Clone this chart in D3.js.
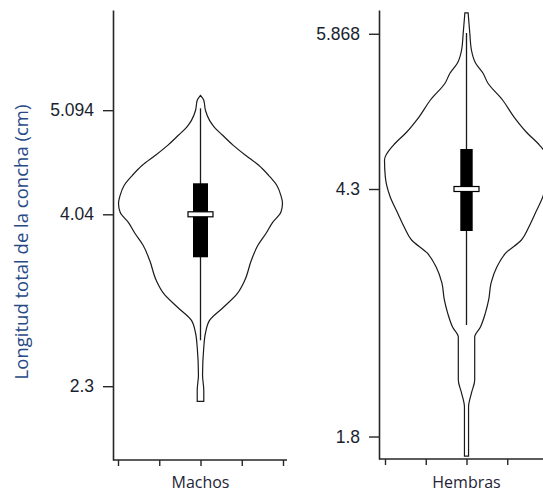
<!DOCTYPE html>
<html>
<head>
<meta charset="utf-8">
<script src="https://cdn.jsdelivr.net/npm/d3@7"></script>
<style>
  body { margin: 0; background: #fff; }
</style>
</head>
<body>
<script>
// groups
var groups = ["Machos", "Hembras"];

// y tick labels per panel
var machosTicks = [2.3, 4.04, 5.094];
var hembrasTicks = [1.8, 4.3, 5.868];

// visible y range of each panel (cm)
var machosDomain = [1.553, 6.108];
var hembrasDomain = [1.573, 6.108];

// violin outline: [length (cm), relative density]
var machosDensity = [
  [5.244, 0.00], [5.194, 0.04], [5.093, 0.06], [4.991, 0.11], [4.921, 0.17],
  [4.840, 0.27], [4.738, 0.40], [4.637, 0.55], [4.536, 0.71], [4.435, 0.83],
  [4.334, 0.93], [4.232, 0.98], [4.151, 1.00], [4.060, 0.98], [3.959, 0.88],
  [3.848, 0.80], [3.726, 0.70], [3.574, 0.62], [3.372, 0.54], [3.240, 0.45],
  [3.099, 0.28], [2.967, 0.11], [2.836, 0.06], [2.694, 0.04], [2.410, 0.025],
  [2.259, 0.04], [2.147, 0.04]
];
var hembrasDensity = [
  [6.078, 0.02], [5.876, 0.04], [5.704, 0.06], [5.573, 0.11], [5.472, 0.20],
  [5.371, 0.26], [5.199, 0.44], [5.027, 0.58], [4.866, 0.74], [4.744, 0.89],
  [4.593, 1.00], [4.421, 0.99], [4.219, 0.93], [4.058, 0.84], [3.916, 0.76],
  [3.785, 0.67], [3.654, 0.48], [3.512, 0.37], [3.351, 0.30], [3.179, 0.27],
  [3.047, 0.23], [2.906, 0.17], [2.805, 0.10], [2.371, 0.10], [2.239, 0.06],
  [2.098, 0.025], [1.603, 0.025]
];

// box stats: [whisker low, q1, median, q3, whisker high]
var machosBox = [2.765, 3.605, 4.04, 4.354, 5.113];
var hembrasBox = [2.926, 3.876, 4.3, 4.704, 5.876];

var width = 543, height = 494;

var svg = d3.select("body")
  .append("svg")
  .attr("width", width)
  .attr("height", height);

var panels = [
  { name: groups[0], ticks: machosTicks, domain: machosDomain, density: machosDensity, box: machosBox,
    axisX: 113, xRange: [118, 283], baseEnd: 287, yRange: [460, 10], boxHalf: 7.5 },
  { name: groups[1], ticks: hembrasTicks, domain: hembrasDomain, density: hembrasDensity, box: hembrasBox,
    axisX: 379, xRange: [385, 548], baseEnd: 543, yRange: [459, 10], boxHalf: 6.2 }
];

var lineColor = "#262626";
var w = d3.scaleLinear().domain([0, 1]).range([0, 82]); // density -> half width

panels.forEach(function(p) {
  var y = d3.scaleLinear().domain(p.domain).range(p.yRange);
  var x = d3.scaleLinear().domain([-1, 1]).range(p.xRange);
  var cx = x(0);
  var g = svg.append("g");

  // y axis
  var yAxis = g.append("g")
    .attr("transform", "translate(" + p.axisX + ",0)")
    .call(d3.axisLeft(y).tickValues(p.ticks).tickFormat(function(d) { return d; })
      .tickSize(10).tickSizeOuter(0).tickPadding(9));
  yAxis.select(".domain").attr("stroke", lineColor).attr("stroke-width", 1.6);
  yAxis.selectAll(".tick line").attr("stroke", lineColor).attr("stroke-width", 1.4);
  yAxis.selectAll(".tick text")
    .attr("font-family", "Liberation Sans, Arial, sans-serif")
    .attr("font-size", "17.5px")
    .attr("fill", "#1b1f30");

  // x axis baseline + ticks
  var base = p.yRange[0];
  g.append("line")
    .attr("x1", p.axisX).attr("x2", p.baseEnd)
    .attr("y1", base).attr("y2", base)
    .attr("stroke", lineColor).attr("stroke-width", 1.6);
  var xAxis = g.append("g")
    .attr("transform", "translate(0," + base + ")")
    .call(d3.axisBottom(x).tickValues([-1, -0.5, 0, 0.5, 1]).tickFormat("").tickSize(6));
  xAxis.select(".domain").remove();
  xAxis.selectAll(".tick line").attr("stroke", lineColor).attr("stroke-width", 1.4);

  g.append("text")
    .attr("x", cx)
    .attr("y", 488)
    .attr("text-anchor", "middle")
    .attr("font-family", "Open Sans, sans-serif")
    .attr("font-size", "16px")
    .attr("fill", "#1f2436")
    .text(p.name);

  // violin
  var area = d3.area()
    .y(function(d) { return y(d[0]); })
    .x0(function(d) { return cx - w(d[1]); })
    .x1(function(d) { return cx + w(d[1]); })
    .curve(d3.curveMonotoneY);
  g.append("path")
    .datum(p.density)
    .attr("d", area)
    .attr("fill", "none")
    .attr("stroke", "#1a1a1a")
    .attr("stroke-width", 1.2);

  // whisker
  g.append("line")
    .attr("x1", cx).attr("x2", cx)
    .attr("y1", y(p.box[0])).attr("y2", y(p.box[4]))
    .attr("stroke", "#1a1a1a").attr("stroke-width", 1.3);

  // box
  g.append("rect")
    .attr("x", cx - p.boxHalf)
    .attr("y", y(p.box[3]))
    .attr("width", p.boxHalf * 2)
    .attr("height", y(p.box[1]) - y(p.box[3]))
    .attr("fill", "#000");

  // median
  g.append("rect")
    .attr("x", cx - 12.5)
    .attr("y", y(p.box[2]) - 2.5)
    .attr("width", 25)
    .attr("height", 5)
    .attr("fill", "#fff")
    .attr("stroke", "#000")
    .attr("stroke-width", 1.2);
});

// y title
svg.append("text")
  .attr("transform", "translate(28,242) rotate(-90)")
  .attr("text-anchor", "middle")
  .attr("font-family", "Open Sans, sans-serif")
  .attr("font-size", "18.5px")
  .attr("fill", "#274a86")
  .text("Longitud total de la concha (cm)");
</script>
</body>
</html>
